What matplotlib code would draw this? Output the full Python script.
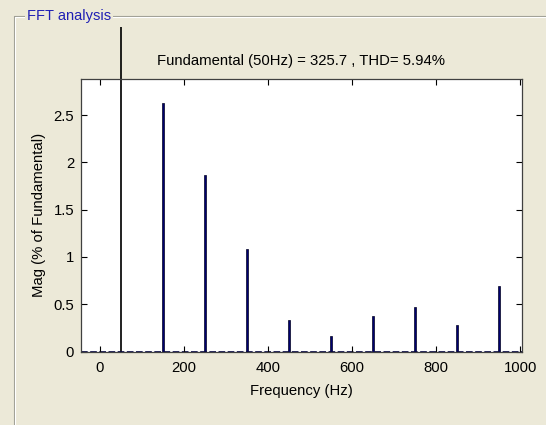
import numpy as np
import matplotlib

matplotlib.use("Agg")
import matplotlib.pyplot as plt
from matplotlib.lines import Line2D
from matplotlib.transforms import Bbox, TransformedBbox

# harmonic spectrum (magnitude in % of fundamental)
freqs = [50, 150, 250, 350, 450, 550, 650, 750, 850, 950]
mags = [100, 2.63, 1.87, 1.08, 0.33, 0.16, 0.38, 0.47, 0.28, 0.69]
xticks = [0, 200, 400, 600, 800, 1000]
yticks = [0, 0.5, 1, 1.5, 2, 2.5]
title = "Fundamental (50Hz) = 325.7 , THD= 5.94%"

W, H = 546, 425
BG = "#ECE9D8"
FS = 10.7
plt.rcParams["font.family"] = ["Liberation Sans", "DejaVu Sans"]

fig = plt.figure(figsize=(W / 100, H / 100), dpi=100, facecolor=BG)

# panel frame (etched look) with its title
def px(x, y):
    return x / W, 1 - y / H

for dx, col in [(0, "#9d9d93"), (1, "#ffffff")]:
    xs, ys = zip(px(14 + dx, H), px(14 + dx, 16 + dx), px(W, 16 + dx))
    fig.add_artist(Line2D(xs, ys, color=col, lw=0.8, transform=fig.transFigure))
tx, ty = px(27, 16)
fig.text(tx, ty, "FFT analysis", color="#1f1fb4", fontsize=10.5, va="center",
         ha="left", bbox=dict(facecolor=BG, edgecolor="none", pad=1.2))

ax = fig.add_axes([81 / W, 1 - 351.5 / H, 440.5 / W, 273 / H])
ax.set_facecolor("white")

bars = ax.bar(freqs, mags, width=6, color="#000070", edgecolor="#000020", linewidth=0.5)
bars[0].set_color("black")
bars[0].set_width(4)
# fundamental runs past the axes, cut at the panel border
clip = TransformedBbox(Bbox([[0, 0], [1, (H - 27) / H]]), fig.transFigure)
bars[0].set_clip_box(clip)

ax.axhline(0, color="#000040", lw=1.2, dashes=(4, 1.5), zorder=1)

ax.set_xlim(-45, 1003)
ax.set_ylim(0, 2.886)
ax.set_xticks(xticks)
ax.set_xticklabels([str(v) for v in xticks])
ax.set_yticks(yticks)
ax.set_yticklabels(["0", "0.5", "1", "1.5", "2", "2.5"])
ax.tick_params(direction="in", top=True, right=True, length=4, width=0.8,
               labelsize=FS, pad=5, colors="black")
ax.tick_params(axis="x", pad=6.5)
for sp in ax.spines.values():
    sp.set_color("#404040")
    sp.set_linewidth(0.9)

ax.set_title(title, fontsize=FS, pad=10)
ax.set_xlabel("Frequency (Hz)", fontsize=FS, labelpad=6.5)
ax.set_ylabel("Mag (% of Fundamental)", fontsize=FS, labelpad=5)

fig.savefig("out.png", dpi=100, facecolor=BG)
